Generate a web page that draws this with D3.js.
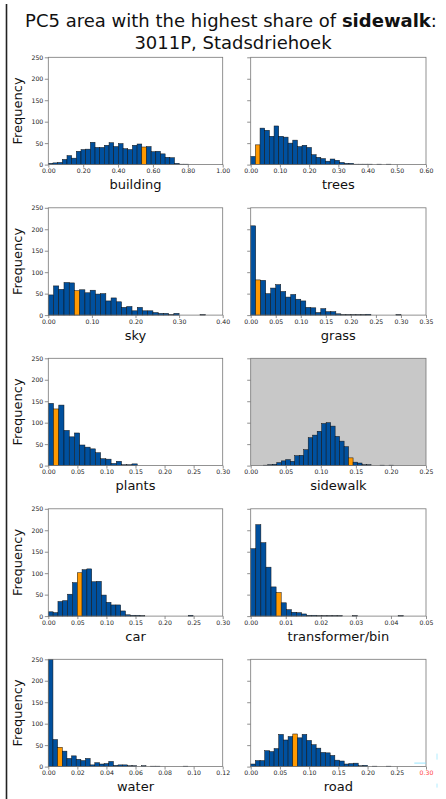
<!DOCTYPE html>
<html>
<head>
<meta charset="utf-8">
<script src="https://cdn.jsdelivr.net/npm/d3@7/dist/d3.min.js"></script>
<style>
  body { margin: 0; background: #fff; }
  svg { display: block; }
  text { font-family: "DejaVu Sans", sans-serif; }
</style>
</head>
<body>
<svg id="chart" width="446" height="799"></svg>
<script>
// one histogram per image segment class
const categories = ["building", "trees", "sky", "grass", "plants", "sidewalk", "car", "transformer/bin", "water", "road"];
const binStart = [0, 0, 0, 0, 0, 0.018, 0, 0, 0, 0];
const binWidth = [0.0268, 0.016, 0.012, 0.01, 0.009, 0.0064, 0.0083, 0.00145, 0.0032, 0.008];
const xMax = [1.0, 0.6, 0.4, 0.35, 0.3, 0.25, 0.3, 0.05, 0.12, 0.3];
const xStep = [0.2, 0.1, 0.1, 0.05, 0.05, 0.05, 0.05, 0.01, 0.02, 0.05];
// bin of the selected area (3011P)
const highlightBin = [20, 1, 5, 1, 1, 19, 6, 5, 2, 9];
const yTicks = [0, 50, 100, 150, 200, 250];

const buildingCounts = [3, 4, 5, 12, 21, 15, 31, 35, 36, 52, 40, 40, 45, 51, 42, 49, 37, 35, 45, 48, 41, 42, 30, 31, 25, 17, 16, 3, 1, 1];
const treesCounts = [19, 46, 85, 80, 66, 90, 66, 64, 50, 57, 42, 45, 40, 23, 17, 14, 8, 13, 10, 5, 3, 3, 1, 1, 1, 1, 0, 1, 0, 1];
const skyCounts = [47, 68, 60, 76, 75, 57, 59, 52, 58, 49, 50, 33, 40, 31, 18, 20, 10, 18, 10, 10, 6, 4, 4, 1, 4, 0, 0, 0, 0, 1];
const grassCounts = [208, 82, 81, 50, 63, 71, 55, 42, 48, 37, 33, 18, 17, 6, 15, 8, 8, 3, 1, 1, 1, 1, 1, 2, 0, 0, 0, 0, 0, 1];
const plantsCounts = [145, 132, 141, 82, 67, 76, 48, 43, 39, 30, 16, 15, 5, 10, 2, 2, 4];
const sidewalkCounts = [1, 2, 3, 7, 11, 14, 10, 23, 24, 37, 65, 71, 80, 98, 100, 92, 68, 57, 44, 18, 8, 6, 2, 2, 0, 0, 1, 0, 1];
const carCounts = [10, 8, 34, 36, 51, 78, 101, 108, 110, 80, 81, 49, 32, 26, 26, 12, 3, 2, 2, 1, 0, 0, 0, 0, 0, 0, 0, 0, 0, 2];
const transformerCounts = [157, 213, 171, 114, 68, 55, 31, 15, 9, 8, 5, 2, 2, 1, 1, 1, 1, 1, 0, 0, 1, 0, 0, 0, 0, 0, 0, 0, 0, 1];
const waterCounts = [380, 63, 45, 36, 19, 25, 17, 14, 19, 4, 9, 6, 7, 12, 3, 4, 4, 2, 2, 0, 2, 0, 1, 1, 0, 0, 0, 0, 0, 1];
const roadCounts = [6, 14, 14, 37, 35, 42, 75, 62, 70, 76, 67, 75, 61, 51, 43, 33, 32, 26, 15, 13, 6, 7, 8, 2, 3, 0, 1, 0, 0, 1];

const countSets = [buildingCounts, treesCounts, skyCounts, grassCounts, plantsCounts,
                   sidewalkCounts, carCounts, transformerCounts, waterCounts, roadCounts];

const svg = d3.select("#chart");

// left vertical rule
svg.append("line")
  .attr("x1", 6.5).attr("x2", 6.5).attr("y1", 4).attr("y2", 799)
  .attr("stroke", "#222").attr("stroke-width", 1.6);

// title
const title = svg.append("text")
  .attr("x", 231).attr("y", 27)
  .attr("text-anchor", "middle")
  .attr("font-size", 18)
  .attr("fill", "#111");
title.append("tspan").text("PC5 area with the highest share of ");
title.append("tspan").attr("font-weight", "bold").text("sidewalk");
title.append("tspan").text(":");
svg.append("text")
  .attr("x", 233).attr("y", 49)
  .attr("text-anchor", "middle")
  .attr("font-size", 18)
  .attr("fill", "#111")
  .text("3011P, Stadsdriehoek");

const colX = [[48.3, 222.7], [250.7, 426]];
const rowTop0 = 57.3, rowStep = 150.5, plotH = 107.3;

categories.forEach((name, i) => {
  const col = i % 2, row = Math.floor(i / 2);
  const top = rowTop0 + row * rowStep, bottom = top + plotH;
  const [x0, x1] = colX[col];

  const x = d3.scaleLinear().domain([0, xMax[i]]).range([x0, x1]);
  const y = d3.scaleLinear().domain([0, 250]).range([bottom, top]).clamp(true);

  const g = svg.append("g");

  if (name === "sidewalk") {
    g.append("rect")
      .attr("x", x0).attr("y", top)
      .attr("width", x1 - x0).attr("height", plotH)
      .attr("fill", "#c8c8c8");
  }

  const bars = countSets[i].map((c, j) => ({ c, j, lo: binStart[i] + j * binWidth[i] }))
    .filter(d => d.c > 0);

  g.selectAll("rect.bar")
    .data(bars)
    .join("rect")
    .attr("class", "bar")
    .attr("x", d => x(d.lo))
    .attr("width", d => x(d.lo + binWidth[i]) - x(d.lo))
    .attr("y", d => y(d.c))
    .attr("height", d => bottom - y(d.c))
    .attr("fill", d => d.j === highlightBin[i] ? "#ff9900" : "#00509e")
    .attr("stroke", "#111")
    .attr("stroke-width", 0.5);

  // x axis
  const xTicks = d3.range(0, xMax[i] + xStep[i] / 2, xStep[i]);
  const xa = g.append("g")
    .attr("transform", "translate(0," + bottom + ")")
    .call(d3.axisBottom(x).tickValues(xTicks).tickFormat(d3.format(".2f")).tickSize(3).tickPadding(1.5));
  xa.select(".domain").remove();
  xa.selectAll("line").attr("stroke", "#444").attr("stroke-width", 0.6);
  xa.selectAll("text").attr("font-size", 6.2).attr("fill", "#222")
    .style("font-family", "'DejaVu Sans', sans-serif");

  // y axis
  const ya = g.append("g")
    .attr("transform", "translate(" + x0 + ",0)")
    .call(d3.axisLeft(y).tickValues(yTicks).tickSize(3.5).tickPadding(1.5)
      .tickFormat(col === 0 ? d3.format("d") : () => ""));
  ya.select(".domain").remove();
  ya.selectAll("line").attr("stroke", "#444").attr("stroke-width", 0.6);
  ya.selectAll("text").attr("font-size", 6.2).attr("fill", "#222")
    .style("font-family", "'DejaVu Sans', sans-serif");

  // spines
  g.append("rect")
    .attr("x", x0).attr("y", top)
    .attr("width", x1 - x0).attr("height", plotH)
    .attr("fill", "none")
    .attr("stroke", "#777")
    .attr("stroke-width", 0.8);

  // labels
  g.append("text")
    .attr("x", (x0 + x1) / 2).attr("y", bottom + 24.5)
    .attr("text-anchor", "middle")
    .attr("font-size", 13)
    .attr("fill", "#111")
    .text(name);

  if (col === 0) {
    g.append("text")
      .attr("transform", "translate(22," + (top + bottom) / 2 + ") rotate(-90)")
      .attr("text-anchor", "middle")
      .attr("font-size", 13)
      .attr("fill", "#111")
      .text("Frequency");
  }

  // editing marks left on the last road tick in the source image
  if (name === "road") {
    xa.selectAll(".tick").filter(d => Math.abs(d - 0.3) < 1e-9)
      .select("text").attr("fill", "#ff3b3b");
    g.append("line")
      .attr("x1", x(0.28)).attr("x2", x(0.3)).attr("y1", bottom - 3.5).attr("y2", bottom - 3.5)
      .attr("stroke", "#7fe0ff").attr("stroke-width", 0.8);
    g.append("line")
      .attr("x1", 437).attr("x2", 437).attr("y1", bottom - 13).attr("y2", bottom + 21)
      .attr("stroke", "#9fe8ff").attr("stroke-width", 0.8).attr("stroke-dasharray", "6,24");
  }
});
</script>
</body>
</html>
